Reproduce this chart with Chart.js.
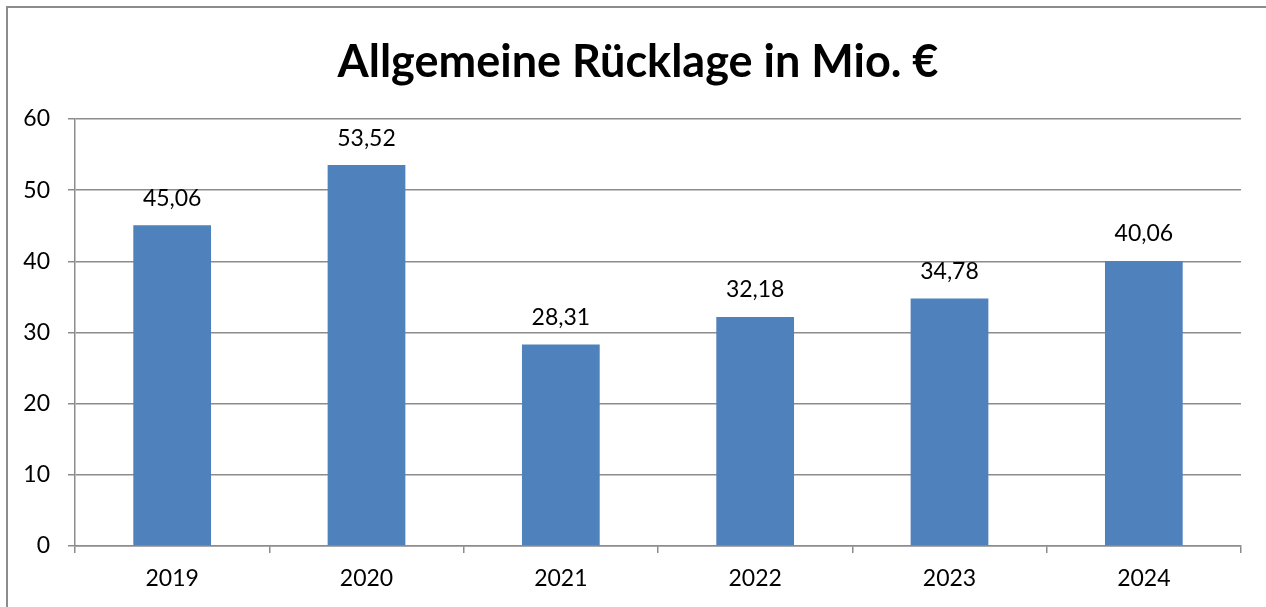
<!DOCTYPE html>
<html>
<head>
<meta charset="utf-8">
<script src="https://cdn.jsdelivr.net/npm/chart.js@4.4.0/dist/chart.umd.min.js"></script>
<style>
  html, body { margin: 0; padding: 0; background: #fff; }
  #wrap { position: relative; width: 1266px; height: 607px; }
  #frame { position: absolute; left: 6px; top: 6px; width: 1270px; height: 610px; border: 2px solid #8c8c8c; box-sizing: border-box; pointer-events: none; }
</style>
</head>
<body>
<div id="wrap">
  <canvas id="c" width="1266" height="607"></canvas>
  <div id="frame"></div>
</div>
<script>
const categories = ["2019", "2020", "2021", "2022", "2023", "2024"];
const values = [45.06, 53.52, 28.31, 32.18, 34.78, 40.06];
const yTicks = [0, 10, 20, 30, 40, 50, 60];
const titleText = "Allgemeine Rücklage in Mio. €";

const FONT = "Lato, 'Open Sans', sans-serif";

const labelPlugin = {
  id: 'valueLabels',
  afterDatasetsDraw(chart) {
    const ctx = chart.ctx;
    const meta = chart.getDatasetMeta(0);
    ctx.save();
    ctx.font = "23px " + FONT;
    ctx.fillStyle = "#000";
    ctx.textAlign = "center";
    ctx.textBaseline = "middle";
    meta.data.forEach((bar, i) => {
      const txt = values[i].toFixed(2).replace('.', ',');
      ctx.fillText(txt, bar.x, bar.y - 27);
    });
    ctx.restore();
  }
};

const titlePlugin = {
  id: 'customTitle',
  afterDraw(chart) {
    const ctx = chart.ctx;
    ctx.save();
    ctx.font = "bold 45px " + FONT;
    ctx.fillStyle = "#000";
    ctx.textAlign = "center";
    ctx.textBaseline = "middle";
    ctx.fillText(titleText, 638, 62);
    ctx.restore();
  }
};

new Chart(document.getElementById('c'), {
  type: 'bar',
  data: {
    labels: categories,
    datasets: [{
      data: values,
      backgroundColor: '#4F81BD',
      borderWidth: 0,
      barPercentage: 0.4,
      categoryPercentage: 1.0
    }]
  },
  options: {
    responsive: false,
    animation: false,
    layout: { padding: { top: 119, left: 0, right: 25, bottom: 0 } },
    plugins: {
      legend: { display: false },
      tooltip: { enabled: false },
      title: { display: false }
    },
    scales: {
      x: {
        offset: true,
        grid: { display: true, drawOnChartArea: false, drawTicks: true, tickLength: 7, color: '#8c8c8c', lineWidth: 1.5, offset: true },
        border: { display: true, color: '#8c8c8c', width: 1.5 },
        ticks: { color: '#000', font: { family: FONT, size: 23 }, padding: 12 },
        afterFit(scale) { scale.height = 61; }
      },
      y: {
        min: 0, max: 60,
        afterBuildTicks(scale) { scale.ticks = yTicks.map(v => ({ value: v })); },
        grid: { color: '#8c8c8c', lineWidth: 1.5, tickLength: 7 },
        border: { display: true, color: '#8c8c8c', width: 1.5 },
        ticks: { color: '#000', font: { family: FONT, size: 23 }, padding: 18 },
        afterFit(scale) { scale.width = 75; }
      }
    }
  },
  plugins: [labelPlugin, titlePlugin]
});
</script>
</body>
</html>
